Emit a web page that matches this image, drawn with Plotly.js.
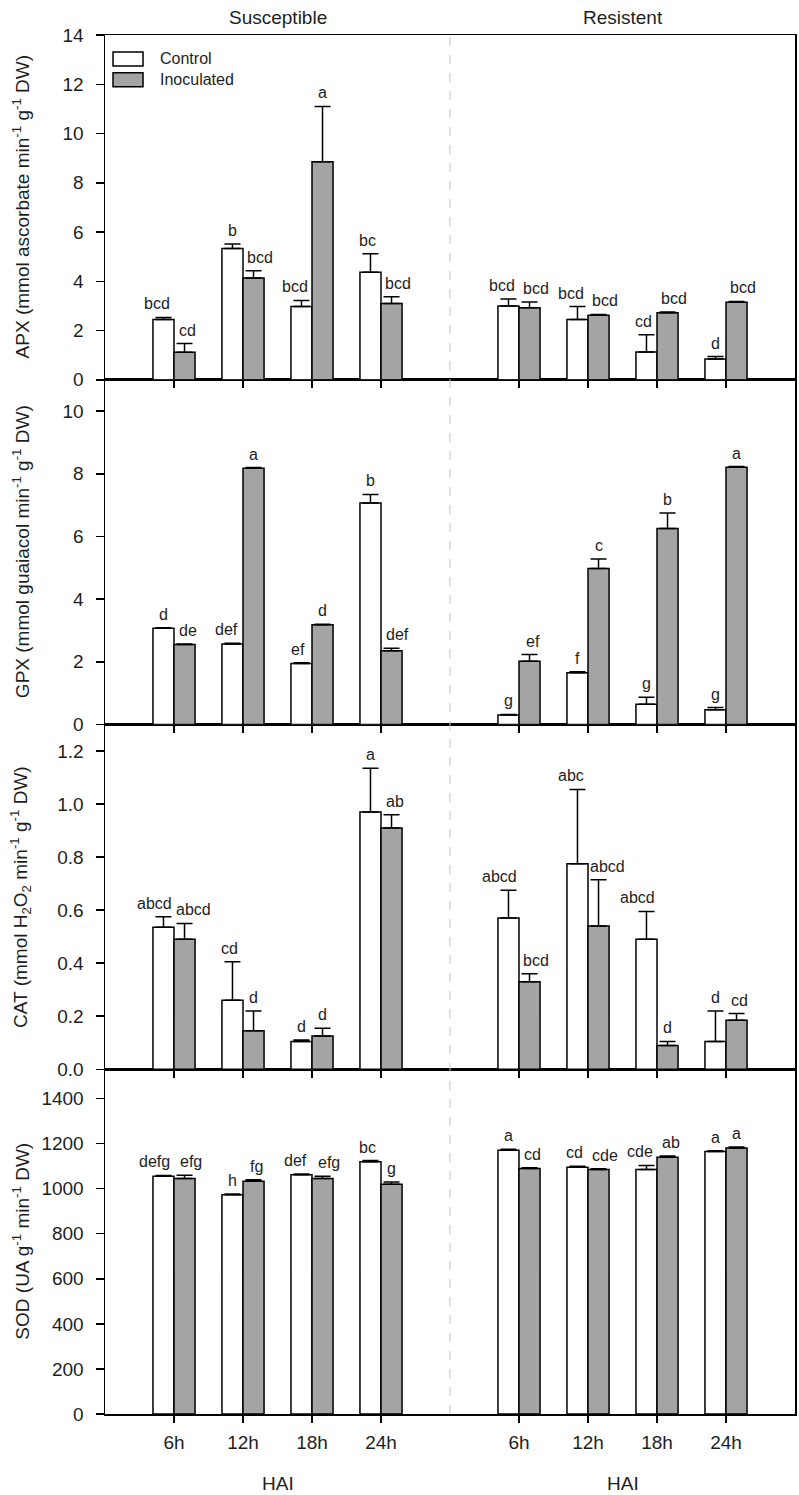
<!DOCTYPE html>
<html>
<head>
<meta charset="utf-8">
<script src="https://cdn.plot.ly/plotly-3.0.1.min.js"></script>
<style>
  html, body { margin: 0; padding: 0; background: #fff; }
  #chart { width: 799px; height: 1495px; }
</style>
</head>
<body>
<div id="chart"></div>
<script>
// Sampling times (hours after inoculation) and cultivar groups
const times = ['6h', '12h', '18h', '24h'];
const cultivars = ['Susceptible', 'Resistent'];
const seriesNames = ['Control', 'Inoculated'];

// Values are listed Susceptible 6h..24h, then Resistent 6h..24h
// APX
const apxControl = [2.45, 5.33, 2.97, 4.37, 3.00, 2.45, 1.13, 0.84];
const apxControlErr = [0.08, 0.18, 0.25, 0.75, 0.28, 0.52, 0.70, 0.10];
const apxInoc = [1.12, 4.13, 8.85, 3.10, 2.92, 2.62, 2.72, 3.15];
const apxInocErr = [0.35, 0.30, 2.25, 0.27, 0.24, 0.03, 0.03, 0.03];
const apxControlLetters = ['bcd', 'b', 'bcd', 'bc', 'bcd', 'bcd', 'cd', 'd'];
const apxInocLetters = ['cd', 'bcd', 'a', 'bcd', 'bcd', 'bcd', 'bcd', 'bcd'];

// GPX
const gpxControl = [3.07, 2.57, 1.95, 7.07, 0.30, 1.65, 0.65, 0.47];
const gpxControlErr = [0.02, 0.02, 0.02, 0.27, 0.02, 0.03, 0.22, 0.07];
const gpxInoc = [2.55, 8.18, 3.18, 2.35, 2.02, 4.98, 6.25, 8.21];
const gpxInocErr = [0.02, 0.02, 0.02, 0.08, 0.21, 0.30, 0.50, 0.02];
const gpxControlLetters = ['d', 'def', 'ef', 'b', 'g', 'f', 'g', 'g'];
const gpxInocLetters = ['de', 'a', 'd', 'def', 'ef', 'c', 'b', 'a'];

// CAT
const catControl = [0.535, 0.26, 0.105, 0.97, 0.57, 0.775, 0.49, 0.105];
const catControlErr = [0.04, 0.145, 0.005, 0.165, 0.105, 0.28, 0.105, 0.115];
const catInoc = [0.49, 0.145, 0.125, 0.91, 0.33, 0.54, 0.09, 0.185];
const catInocErr = [0.06, 0.075, 0.03, 0.05, 0.03, 0.175, 0.015, 0.025];
const catControlLetters = ['abcd', 'cd', 'd', 'a', 'abcd', 'abc', 'abcd', 'd'];
const catInocLetters = ['abcd', 'd', 'd', 'ab', 'bcd', 'abcd', 'd', 'cd'];

// SOD
const sodControl = [1055, 973, 1062, 1120, 1170, 1095, 1085, 1165];
const sodControlErr = [4, 3, 3, 5, 5, 4, 18, 3];
const sodInoc = [1045, 1033, 1045, 1020, 1090, 1085, 1140, 1180];
const sodInocErr = [15, 7, 10, 10, 3, 3, 5, 5];
const sodControlLetters = ['defg', 'h', 'def', 'bc', 'a', 'cd', 'cde', 'a'];
const sodInocLetters = ['efg', 'fg', 'efg', 'g', 'cd', 'cde', 'ab', 'a'];

// Panel definitions, top to bottom
const panels = [
  { title: 'APX (mmol ascorbate min<sup>-1</sup> g<sup>-1</sup> DW)', range: [0, 14], dtick: 2, fmt: '',
    ctrl: apxControl, ctrlErr: apxControlErr, inoc: apxInoc, inocErr: apxInocErr,
    ctrlLab: apxControlLetters, inocLab: apxInocLetters },
  { title: 'GPX (mmol guaiacol min<sup>-1</sup> g<sup>-1</sup> DW)', range: [0, 11], dtick: 2, fmt: '',
    ctrl: gpxControl, ctrlErr: gpxControlErr, inoc: gpxInoc, inocErr: gpxInocErr,
    ctrlLab: gpxControlLetters, inocLab: gpxInocLetters },
  { title: 'CAT (mmol H<sub>2</sub>O<sub>2</sub> min<sup>-1</sup> g<sup>-1</sup> DW)', range: [0, 1.3], dtick: 0.2, fmt: '.1f',
    ctrl: catControl, ctrlErr: catControlErr, inoc: catInoc, inocErr: catInocErr,
    ctrlLab: catControlLetters, inocLab: catInocLetters },
  { title: 'SOD (UA g<sup>-1</sup> min<sup>-1</sup> DW)', range: [0, 1530], dtick: 200, fmt: '',
    ctrl: sodControl, ctrlErr: sodControlErr, inoc: sodInoc, inocErr: sodInocErr,
    ctrlLab: sodControlLetters, inocLab: sodInocLetters }
];

// x positions: Susceptible at 1..4, Resistent at 6..9 (gap of one slot between groups)
const positions = [];
const tickText = [];
cultivars.forEach((c, g) => {
  times.forEach((t, i) => {
    positions.push(g * 5 + i + 1);
    tickText.push(t);
  });
});

const FONT = 'Liberation Sans, Arial, Helvetica, sans-serif';
const INK = '#1e1e1e';
const BARGAP = 0.39;
const half = (1 - BARGAP) / 4; // centre offset of each bar in a pair

// longer letter groups are nudged outward so neighbouring labels don't collide
const nudge = (s) => (s.length - 1) * 3;

const traces = [];
const annotations = [];
const layout = {
  width: 799, height: 1495,
  margin: { l: 105, r: 4, t: 35, b: 81 },
  paper_bgcolor: '#fff', plot_bgcolor: '#fff',
  barmode: 'group', bargap: BARGAP, bargroupgap: 0,
  showlegend: false,
  font: { family: FONT, color: INK, size: 19 },
  shapes: [],
  annotations: annotations
};

const n = panels.length;
panels.forEach((p, k) => {
  const sfx = k === n - 1 ? '' : String(n - k);
  const xa = 'x' + sfx, ya = 'y' + sfx;
  const domain = [1 - (k + 1) / n, 1 - k / n];
  const zeros = p.ctrl.map(() => 0);

  traces.push({
    type: 'bar', name: seriesNames[0], x: positions, y: p.ctrl,
    xaxis: xa, yaxis: ya,
    marker: { color: '#ffffff', line: { color: '#000', width: 1.5 } },
    error_y: { type: 'data', symmetric: false, array: p.ctrlErr, arrayminus: zeros,
               color: '#000', thickness: 1.5, width: 8 },
    hoverinfo: 'skip'
  });
  traces.push({
    type: 'bar', name: seriesNames[1], x: positions, y: p.inoc,
    xaxis: xa, yaxis: ya,
    marker: { color: '#a4a4a4', line: { color: '#000', width: 1.5 } },
    error_y: { type: 'data', symmetric: false, array: p.inocErr, arrayminus: zeros,
               color: '#000', thickness: 1.5, width: 8 },
    hoverinfo: 'skip'
  });

  const isBottom = k === n - 1;
  layout['xaxis' + sfx] = {
    domain: [0, 1], anchor: ya, range: [0, 10],
    tickmode: 'array', tickvals: positions, ticktext: tickText,
    showticklabels: isBottom, ticks: 'outside', ticklen: 7, tickwidth: 1.5, tickcolor: '#000',
    ticklabelstandoff: 4,
    tickfont: { size: 19, family: FONT, color: INK },
    showline: true, linecolor: '#000', linewidth: 1.5, mirror: true,
    showgrid: false, zeroline: false, fixedrange: true
  };
  if (sfx !== '') layout['xaxis' + sfx].matches = 'x';

  layout['yaxis' + sfx] = {
    domain: domain, anchor: xa, range: p.range,
    tick0: 0, dtick: p.dtick, tickformat: p.fmt,
    ticks: 'outside', ticklen: 8, tickwidth: 1.5, tickcolor: '#000',
    ticklabelstandoff: 8,
    tickfont: { size: 19, family: FONT, color: INK },
    showline: true, linecolor: '#000', linewidth: 1.5, mirror: true,
    showgrid: false, zeroline: false, fixedrange: true
  };

  // rotated axis title, aligned for all panels
  annotations.push({
    text: p.title, textangle: -90, showarrow: false,
    xref: 'paper', yref: 'paper', x: 0, y: (domain[0] + domain[1]) / 2,
    xanchor: 'center', yanchor: 'middle', xshift: -84,
    font: { size: 19, family: FONT, color: INK }
  });

  // significance letters above each bar
  positions.forEach((xp, i) => {
    annotations.push({
      text: p.ctrlLab[i], showarrow: false, xref: xa, yref: ya,
      x: xp - half, y: p.ctrl[i] + p.ctrlErr[i], xanchor: 'center', yanchor: 'bottom',
      yshift: 3, xshift: -nudge(p.ctrlLab[i]),
      font: { size: 16, family: FONT, color: INK }
    });
    annotations.push({
      text: p.inocLab[i], showarrow: false, xref: xa, yref: ya,
      x: xp + half, y: p.inoc[i] + p.inocErr[i], xanchor: 'center', yanchor: 'bottom',
      yshift: 3, xshift: nudge(p.inocLab[i]),
      font: { size: 16, family: FONT, color: INK }
    });
  });
});

// dashed divider between cultivar groups
layout.shapes.push({
  type: 'line', xref: 'x', yref: 'paper', x0: 5, x1: 5, y0: 0, y1: 1,
  line: { color: '#c4c4c4', width: 1, dash: 'dash' }
});

// group headings and HAI labels
cultivars.forEach((c, g) => {
  const xc = g * 5 + (times.length + 1) / 2;
  annotations.push({
    text: c, showarrow: false, xref: 'x', yref: 'paper', x: xc, y: 1,
    xanchor: 'center', yanchor: 'middle', yshift: 18,
    font: { size: 19, family: FONT, color: INK }
  });
  annotations.push({
    text: 'HAI', showarrow: false, xref: 'x', yref: 'paper', x: xc, y: 0,
    xanchor: 'center', yanchor: 'middle', yshift: -69,
    font: { size: 19, family: FONT, color: INK }
  });
});

// legend box inside the top panel
const legendFills = ['#ffffff', '#a4a4a4'];
seriesNames.forEach((s, i) => {
  const y1 = 0.951 - i * 0.0605, y0 = y1 - 0.0406;
  layout.shapes.push({
    type: 'rect', xref: 'x4 domain', yref: 'y4 domain',
    x0: 0.0116, x1: 0.0551, y0: y0, y1: y1,
    fillcolor: legendFills[i], line: { color: '#000', width: 1.5 }
  });
  annotations.push({
    text: s, showarrow: false, xref: 'x4 domain', yref: 'y4 domain',
    x: 0.0768, y: (y0 + y1) / 2, xanchor: 'left', yanchor: 'middle',
    font: { size: 16, family: FONT, color: INK }
  });
});

Plotly.newPlot('chart', traces, layout, { staticPlot: true, displayModeBar: false });
</script>
</body>
</html>
